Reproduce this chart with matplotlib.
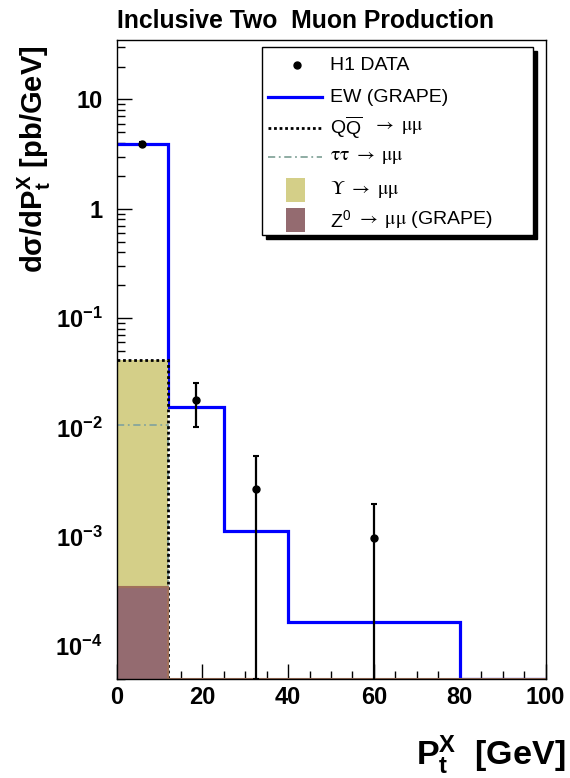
import numpy as np
import matplotlib
matplotlib.use('Agg')
import matplotlib.pyplot as plt
from matplotlib.patches import Rectangle
from matplotlib.lines import Line2D
from matplotlib.text import Annotation
from matplotlib.ticker import MultipleLocator, LogLocator, NullFormatter

plt.rcParams['font.family'] = ['Liberation Sans', 'DejaVu Sans']
plt.rcParams['mathtext.fontset'] = 'custom'
plt.rcParams['mathtext.rm'] = 'Liberation Sans'
plt.rcParams['mathtext.it'] = 'Liberation Sans:italic'
plt.rcParams['mathtext.bf'] = 'Liberation Sans:bold'

# histogram bins (GeV) and predictions per bin
edges = [0, 12, 25, 40, 80, 100]
ew_grape = [3.9, 0.0153, 0.00113, 0.000167, 0.0]
qqbar = [0.041, 0.0, 0.0, 0.0, 0.0]
tautau = [0.0105, 0.0, 0.0, 0.0, 0.0]
upsilon = [0.041, 0.0, 0.0, 0.0, 0.0]
z0_grape = [0.00035, 0.0, 0.0, 0.0, 0.0]

# H1 data points
data_x = [6.0, 18.5, 32.5, 60.0]
data_y = [3.9, 0.0177, 0.00275, 0.00098]
data_err = [0.15, 0.0076, 0.0027, 0.00100]

ytick_vals = [1e-4, 1e-3, 1e-2, 1e-1, 1, 10]
ytick_labels = [r'$\mathbf{10^{-4}}$', r'$\mathbf{10^{-3}}$',
                r'$\mathbf{10^{-2}}$', r'$\mathbf{10^{-1}}$', '1', '10']

ymin, ymax = 5e-5, 35

W, H = 570, 778
fig = plt.figure(figsize=(W / 100, H / 100), dpi=100)
ax = fig.add_axes([116.5 / W, 1 - 679 / H, 429 / W, 639 / H])
ax.set_yscale('log')


def floor(v):
    v = np.asarray(v, dtype=float)
    return np.where(v > 0, v, ymin)


blue = '#0000ff'
khaki = '#d4cf88'
zcol = '#946b70'
tcol = '#86a69c'

ax.stairs(floor(ew_grape), edges, baseline=None, color=blue, lw=2.3, zorder=2)
ax.stairs(floor(upsilon), edges, baseline=ymin, fill=True, color=khaki, zorder=3)
ax.stairs(floor(tautau), edges, baseline=None, color=tcol, lw=1.3,
          linestyle=(0, (4, 2, 1, 2)), zorder=4)
ax.stairs(floor(qqbar), edges, baseline=None, color='black', lw=2.0,
          linestyle=(0, (1, 1)), zorder=5)
ax.stairs(floor(z0_grape), edges, baseline=ymin, fill=True, color=zcol, zorder=6)
ax.stairs(floor(z0_grape), edges, baseline=None, color='#a0705a', lw=1.5, zorder=6)

y = np.array(data_y)
e = np.array(data_err)
lo = y - np.maximum(y - e, 1e-7)
ax.errorbar(data_x, y, yerr=[lo, e], fmt='o', color='black', ms=5, lw=1.6,
            capsize=2.5, capthick=1.5, zorder=8)

ax.set_xlim(0, 100)
ax.set_ylim(ymin, ymax)
ax.set_xticks(range(0, 101, 20))
ax.xaxis.set_minor_locator(MultipleLocator(5))
ax.set_yticks(ytick_vals, labels=ytick_labels)
ax.yaxis.set_minor_locator(LogLocator(base=10, subs=np.arange(2, 10), numticks=30))
ax.yaxis.set_minor_formatter(NullFormatter())
ax.tick_params(which='both', direction='in', top=False, right=False, width=1)
ax.tick_params(which='major', length=11, labelsize=17)
ax.tick_params(which='minor', length=5.5)
ax.tick_params(axis='y', pad=10)
ax.tick_params(axis='x', pad=5)
for lab in ax.get_xticklabels() + ax.get_yticklabels():
    lab.set_fontweight('bold')
for s in ax.spines.values():
    s.set_linewidth(1)
    s.set_zorder(10)

fig.text(117 / W, 1 - 28 / H, 'Inclusive Two  Muon Production',
         fontsize=17.8, fontweight='bold', ha='left', va='baseline')
fig.text(34 / W, 1 - 46 / H, r'd$\mathbf{\sigma}$/dP$\mathbf{_t^X}$ [pb/GeV]',
         fontsize=21, fontweight='bold', rotation=90, ha='center', va='top')
fig.text(565 / W, 1 - 765 / H, r'P$\mathbf{_t^X}$  [GeV]',
         fontsize=24.5, fontweight='bold', ha='right', va='baseline')


# legend box with shadow
def P(x, yy):
    return (x / W, 1 - yy / H)


lx0, ly0, lx1, ly1 = 262, 47, 533, 235
fig.add_artist(Rectangle(P(lx0 + 4, ly1 + 4), (lx1 - lx0) / W, (ly1 - ly0) / H,
                         transform=fig.transFigure, facecolor='black', edgecolor='black', zorder=10))
fig.add_artist(Rectangle(P(lx0, ly1), (lx1 - lx0) / W, (ly1 - ly0) / H,
                         transform=fig.transFigure, facecolor='white', edgecolor='black', lw=1, zorder=11))

rows = [65, 97, 128, 157, 190, 220]
# (sans part, symbol part)
labels = [('H1 DATA', ''), ('EW (GRAPE)', ''),
          (r'$\mathrm{Q\overline{Q}}$', r'  $\rightarrow\ \mathrm{\mu\mu}$'),
          ('', r'$\mathrm{\tau\tau}\ \rightarrow\ \mathrm{\mu\mu}$'),
          ('', r'$\mathrm{\Upsilon}\ \rightarrow\ \mathrm{\mu\mu}$'),
          (r'Z$^{\mathrm{0}}$', r' $\rightarrow\ \mathrm{\mu\mu}$ (GRAPE)')]

x0, y0 = P(297, rows[0])
fig.add_artist(Line2D([x0], [y0], marker='o', ms=5, color='black', ls='none',
                      transform=fig.transFigure, zorder=12))
for r, kw in [(rows[1], dict(color=blue, lw=2.3)),
              (rows[2], dict(color='black', lw=2.0, ls=(0, (1, 1)))),
              (rows[3], dict(color=tcol, lw=1.3, ls=(0, (4, 2, 1, 2))))]:
    xa, ya = P(268, r)
    xb, _ = P(322, r)
    fig.add_artist(Line2D([xa, xb], [ya, ya], transform=fig.transFigure, zorder=12, **kw))
for r, c in [(rows[4], khaki), (rows[5], zcol)]:
    fig.add_artist(Rectangle(P(286, r + 12), 19 / W, 24 / H, transform=fig.transFigure,
                             facecolor=c, edgecolor='none', zorder=12))
for r, (t1, t2) in zip(rows, labels):
    xt, yt = P(330, r)
    if t1:
        first = fig.text(xt, yt, t1, fontsize=14, ha='left', va='center', zorder=13)
        if t2:
            fig.add_artist(Annotation(t2, xy=(1, 0.5), xycoords=first, fontsize=14,
                                      ha='left', va='center', math_fontfamily='stix',
                                      annotation_clip=False, zorder=13))
    else:
        fig.text(xt, yt, t2, fontsize=14, ha='left', va='center',
                 math_fontfamily='stix', zorder=13)

fig.savefig('out.png', dpi=100)
